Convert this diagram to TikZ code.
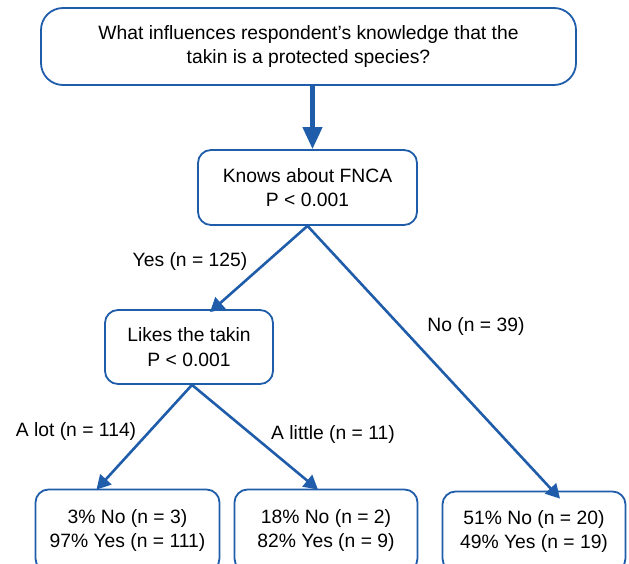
\documentclass[tikz,border=0pt]{standalone}
\usepackage{fontspec}
\setmainfont{Liberation Sans}
\usetikzlibrary{arrows.meta}
\definecolor{tblue}{RGB}{31,92,170}
\begin{document}
\begin{tikzpicture}[x=1pt,y=-1pt,
  box/.style={draw=tblue, line width=1.8pt, rounded corners=13pt, align=center, inner sep=0pt,
    font=\fontsize{19.3}{24.5}\selectfont, text=black},
  conn/.style={draw=tblue, line width=2.6pt, -{Triangle[length=14pt,width=15pt]}},
  lbl/.style={font=\fontsize{19.3}{24.5}\selectfont, text=black}]
\useasboundingbox (0,0) rectangle (629,564);
\node[box, rounded corners=22pt, minimum width=535pt, minimum height=77pt] (q) at (308.5,46.5)
  {What influences respondent’s knowledge that the\\takin is a protected species?};
\node[box, minimum width=219pt, minimum height=75pt] (f) at (307.5,187.5) {Knows about FNCA\\P < 0.001};
\node[box, minimum width=168pt, minimum height=74pt] (l) at (189,347) {Likes the takin\\P < 0.001};
\node[box, minimum width=184pt, minimum height=82pt] (a) at (127.5,530.5) {3\% No (n = 3)\\97\% Yes (n = 111)};
\node[box, minimum width=183pt, minimum height=82pt] (b) at (326,530.5) {18\% No (n = 2)\\82\% Yes (n = 9)};
\node[box, minimum width=183pt, minimum height=80pt] (c) at (534,531.5) {51\% No (n = 20)\\49\% Yes (n = 19)};
\coordinate (qs) at ([xshift=4pt]q.south);
\draw[conn, line width=4.2pt, -{Triangle[length=22pt,width=19pt]}] (qs) -- (qs |- f.north);
\draw[conn] (f.south) -- ([xshift=21pt,yshift=-3pt]l.north);
\draw[conn] (f.south) -- ([xshift=26pt,yshift=-8pt]c.north);
\draw[conn] ([xshift=3pt]l.south) -- ([xshift=-31pt,yshift=-1pt]a.north);
\draw[conn] ([xshift=3pt]l.south) -- ([xshift=-8pt,yshift=-1pt]b.north);
\node[lbl] (ly) at (190,262) {Yes (n = 125)};
\node[lbl] (ln) at (476,327) {No (n = 39)};
\node[lbl] (la) at (76,432) {A lot (n = 114)};
\node[lbl] (lb) at (333,435) {A little (n = 11)};
\end{tikzpicture}
\end{document}
